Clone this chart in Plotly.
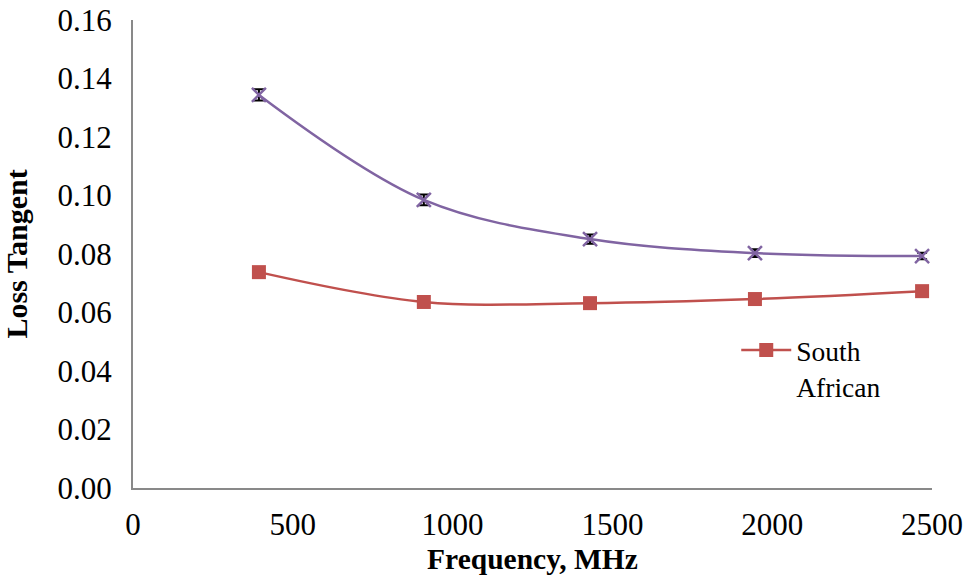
import plotly.graph_objects as go

freq = [394, 910, 1430, 1946, 2469]
purple_vals = [0.1344, 0.0985, 0.0851, 0.0803, 0.0793]
purple_err = [0.0019, 0.0018, 0.0016, 0.0013, 0.0011]
red_vals = [0.0738, 0.0636, 0.0632, 0.0646, 0.0673]

x_ticks = [0, 500, 1000, 1500, 2000, 2500]
y_ticks = [0.00, 0.02, 0.04, 0.06, 0.08, 0.10, 0.12, 0.14, 0.16]

FONT = "Liberation Serif, Times New Roman, serif"

fig = go.Figure()
fig.add_trace(go.Scatter(
    x=freq, y=purple_vals, mode="lines+markers", showlegend=False,
    line=dict(color="#8064A2", width=2.5, shape="spline", smoothing=1.0),
    marker=dict(symbol="x-thin", size=14, line=dict(color="#8064A2", width=2.5)),
    error_y=dict(type="data", array=purple_err, color="black", thickness=2, width=5),
))
fig.add_trace(go.Scatter(
    x=freq, y=red_vals, mode="lines+markers", name="South<br>African",
    line=dict(color="#C0504D", width=2.5, shape="spline", smoothing=1.0),
    marker=dict(symbol="square", size=14, color="#C0504D"),
))

fig.update_layout(
    width=968, height=575,
    margin=dict(l=133, r=36, t=20, b=87),
    paper_bgcolor="white", plot_bgcolor="white",
    font=dict(family=FONT, size=30, color="black"),
    showlegend=True,
    legend=dict(x=0.755, y=0.256, xanchor="left", yanchor="middle", valign="top",
                bgcolor="rgba(0,0,0,0)", font=dict(size=27.5, family=FONT),
                itemwidth=50),
    xaxis=dict(range=[0, 2500], tickvals=x_ticks, ticktext=[str(v) for v in x_ticks],
               showgrid=False, zeroline=False, showline=True, linecolor="#898989",
               linewidth=2, ticks="", ticklen=0, tickfont=dict(size=31),
               ticklabelstandoff=8, automargin=False,
               title=dict(text="<b>Frequency, MHz</b>", font=dict(size=29.5, family=FONT), standoff=8)),
    yaxis=dict(range=[0, 0.16], tickvals=y_ticks, ticktext=[f"{v:.2f}" for v in y_ticks],
               showgrid=False, zeroline=False, showline=True, linecolor="#898989",
               linewidth=2, ticks="", ticklen=0, tickfont=dict(size=31),
               ticklabelstandoff=13, automargin=False,
               title=dict(text="<b>Loss Tangent</b>", font=dict(size=30, family=FONT), standoff=22)),
)

fig.write_html("out.html", config={"displayModeBar": False},
               post_script="document.body.style.margin='0';")
